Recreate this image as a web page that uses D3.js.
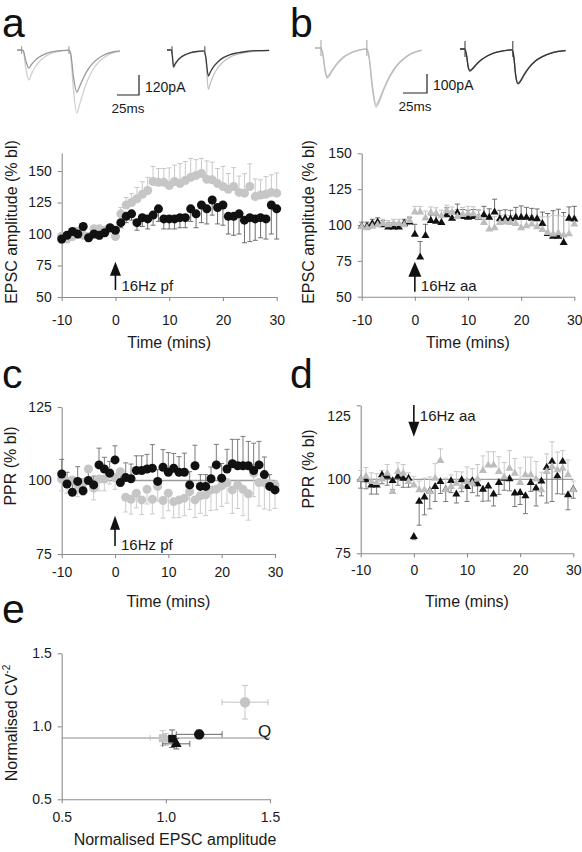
<!DOCTYPE html>
<html><head><meta charset="utf-8">
<script src="https://cdn.jsdelivr.net/npm/d3@7"></script>
<style>
body{margin:0;background:#fff}
svg{display:block}
</style>
</head><body><svg id="fig" width="582" height="852"></svg>
<script>
// ---------------- DATA ----------------
const timeMin = [-10,-9,-8,-7,-6,-5,-4,-3,-2,-1,0,1,2,3,4,5,6,7,8,9,10,11,12,13,14,15,16,17,18,19,20,21,22,23,24,25,26,27,28,29,30];
const xTicks = [-10,0,10,20,30];

// panel a: EPSC amplitude, 16Hz pf (circles)
const aGray = [98,96,98,102,99,98,104,104,103,104, 98,116,123,125,128,131.5,134.5,141.7,141,141,138.5,141.7,140,142.5,145,146.5,148,143.5,143,140,137.7,135.5,137.7,133,132.4,137.7,129.7,131,131.6,133,132.4];
const aGrayErr = [3,3,3,3,3,3,3,3,3,3, 3,5,6,7,9,10,10.5,12,11,11,14,13,16,15,15,12.5,12,14.5,14,12,16,12.5,15,13,15.5,18,14,12,14,14,16];
const aBlack = [96,99,102,100,106,97,100,99,101,105, 103,109,114,116,109,113,112,115,120,112,112,112,113,113,120,116,123,120,127,121,123,114,114,116,111,113,112,113,112,123,120];
const aBlackErr = [3,3,3,3,3,3,3,3,3,3, 3,4,5,5,6,7,8,8,10,8,8,8,8,8,10,11,14,12,12,13,16,14,15,16,18,19,17,16,16,23,24];

// panel b: EPSC amplitude, 16Hz aa (triangles)
const bGray = [98.6,98,99,100,101,100,101,101,100,103, 109,109,104.7,108.6,108,106.3,109.8,108.6,105.8,107.2,108,107.7,105.8,101.6,97,98,101.6,102,101.6,101,98,99.3,100.5,98.6,96.7,94.7,93.6,94.4,93,93.7,100.5];
const bGrayErr = [3,3,3,3,3,3,3,3,3,3, 4,4,5,4,4,4,4,4,5,5,5,5,5,6,7,8,5,5,5,6,6,6,6,7,9,11,13,12,13,10,5];
const bBlack = [99,99,101,102,100,98.5,98.5,98.5,101,102, 93.5,77.5,92.5,103,102.5,101.6,107,104.6,108.6,105.8,105.3,105.8,105.5,107,105.3,109,104.2,104.6,104.2,105.3,105.3,105.3,104.6,104.2,101,94,92,92,87.7,104.6,104];
const bBlackErr = [3,3,3,3,3,3,3,3,3,3, 7,11,8,4,4,4,5,5,6,5,5,5,5,6,6,9,6,6,6,7,8,7,7,7,8,14,18,19,21,8,9];

// panel c: PPR, 16Hz pf (circles)
const cGray = [100.5,99.7,100.2,98.5,99,103.9,97.4,100.5,100.5,102.8, 101,103,94.3,93.6,95.7,93.4,97,93.6,98,93.2,95.7,92.8,93.4,94,96.2,93.4,94.8,95.1,96.8,97,98.2,99.3,96.8,98.5,97,95.5,102.5,99.3,99.3,98.9,98.5];
const cGrayErr = [4,4,4,4,4,4,4,4,4,4, 4,5,5,5,5,5,5,5,5,6,6,5.5,6,6,6,6,6,7,7,7,7,7,8,8,9,9,8,8,9,9,8];
const cBlack = [102.2,98.8,96,99.7,96.5,100,98.5,105.3,103.9,102.5, 107,99.3,101,100.6,103.4,103.4,103.9,104.2,99.7,104.5,102.8,104.2,102.8,102.8,98.5,105,98,98,100.6,105.3,100.8,103.9,105.7,105,105,105,103.4,105.3,102,98,96.8];
const cBlackErr = [5,4,4,5,4,4,3,5.7,4,4, 4.8,4,5,5,5,5,5,8,4,6,6.7,5,5.3,6.5,4.5,7,4,4,4,7,5,6.7,8.3,9,10,8.3,9.3,8,6,4,3];

// panel d: PPR, 16Hz aa (triangles)
const dGray = [100,101,99.2,98.9,100,102,95.8,102.6,102,99.2, 98,96.4,96.4,95.8,100.3,106.3,96.4,97.5,98.6,97.5,99.2,98.6,100,102.9,104.8,104.8,102.6,100.7,103.7,102,98.9,101.5,101.5,100,96.4,102.6,104.3,103.2,103.7,101.5,96.4];
const dGrayErr = [3,3,3,3,3,3,3,3,3,3, 3,3,4,5,5,4,4,4,4,5,5,5,5,5,4.5,4.5,5,5,6,5,5,6,6,6,6,6,8.4,6,6,5,3];
const dBlack = [100,99.8,98,98,101.5,101,99.5,101,100.3,100.3, 80.6,92.5,94,96,97.5,99.2,96.5,99.5,95,99.8,97.5,99.5,98.4,96.6,97.7,95,98.9,100.3,100.1,95.3,95.5,94.4,98.9,97,99.4,104,106,101.1,106,94.7,96.6];
const dBlackErr = [3,3,3,3,3,3,3,3,3,3, 1,8,6,6,5,4,4,4,3,4,5,4,4,4,5,4,4,4,4,4.5,4,6,3,6,5,12,13.5,6,11,5,3];

// panel e: normalised CV^-2 vs normalised EPSC amplitude
const eGroup   = ['pf grey','pf black','aa grey','aa black','sq grey','sq black'];
const eAmp     = [1.38, 1.16, 1.00, 1.05, 0.985, 1.03];
const eAmpErr  = [0.11, 0.11, 0.03, 0.065, 0.06, 0.02];
const eCv      = [1.165, 0.945, 0.91, 0.88, 0.92, 0.915];
const eCvErr   = [0.115, 0.03, 0.04, 0.035, 0.05, 0.06];
const eShape   = ['circle','circle','triangle','triangle','square','square'];
const eTone    = ['grey','black','grey','black','grey','black'];
const eRefCv   = 0.92;

// example traces: [ms, pA]
const traceALeftBig = [[0,0],[5,0],[7,-5],[10,-110],[13.5,-180],[16,-150],[20,-108],[25,-72],[31,-43],[38,-22],[46,-10],[54,-4],[59,-2],[61,-30],[64,-230],[68,-378],[71,-330],[75,-260],[80,-185],[86,-120],[93,-72],[101,-38],[109,-18],[117,-8]];
const traceALeftSmall = [[0,0],[5,0],[7,-3],[10,-65],[13.5,-108],[16,-90],[20,-65],[25,-43],[31,-26],[38,-13],[46,-6],[54,-2],[59,-1],[61,-20],[64,-155],[68,-252],[71,-220],[75,-172],[80,-122],[86,-80],[93,-48],[101,-25],[109,-12],[117,-5]];
const traceARightDark = [[0,0],[5,0],[6,-30],[7.4,-100],[9,-85],[12,-62],[16,-42],[21,-27],[27,-16],[34,-9],[42,-5],[44,-40],[47,-156],[49,-135],[53,-100],[58,-70],[64,-46],[71,-29],[80,-17],[90,-9],[102,-4],[116,-2]];
const traceARightLight = [[0,0],[5,0],[6,-30],[7.4,-108],[9,-92],[12,-68],[16,-46],[21,-29],[27,-17],[34,-10],[42,-6],[44,-50],[47,-236],[49,-205],[53,-150],[58,-105],[64,-70],[71,-44],[80,-26],[90,-14],[102,-7],[116,-3]];
const traceBLeftA = [[0,0],[6,0],[8,-30],[10.5,-120],[12.5,-158],[15,-145],[19,-112],[24,-78],[30,-48],[37,-27],[45,-13],[54,-6],[56,-40],[60,-220],[63.5,-310],[67,-280],[72,-215],[78,-150],[85,-95],[93,-55],[101,-28],[111,-12]];
const traceBLeftB = [[0,0],[6,0],[8,-25],[10.5,-110],[12.5,-150],[15,-138],[19,-107],[24,-75],[30,-46],[37,-26],[45,-12],[54,-5],[56,-35],[60,-205],[63.5,-298],[67,-270],[72,-208],[78,-145],[85,-92],[93,-53],[101,-27],[111,-11]];
const traceBRightDark = [[0,0],[5,0],[7,-40],[8.5,-95],[10.4,-116],[13,-105],[17,-82],[22,-58],[28,-38],[35,-22],[44,-11],[54,-5],[56,-40],[58,-140],[60.4,-184],[63,-170],[67,-135],[72,-98],[78,-66],[86,-40],[95,-22],[110,-9]];
const traceBRightGray = [[0,0],[5,0],[7,-35],[8.5,-90],[10.4,-112],[13,-102],[17,-80],[22,-56],[28,-37],[35,-21],[44,-10],[54,-4],[56,-36],[58,-135],[60.4,-178],[63,-165],[67,-131],[72,-95],[78,-64],[86,-39],[95,-21],[110,-8]];
const stimALeft = [5.3, 59];
const stimARight = [5.7, 43];
const stimBLeft = [6.25, 54];
const stimBRight = [5.2, 55];
const scaleBarA = {ms: 25, pA: 120};
const scaleBarB = {ms: 25, pA: 100};

// ---------------- DRAWING ----------------
const FONT = '"Liberation Sans", Arial, Helvetica, sans-serif';
const AXC = '#8c8c8c';
const GREY_MK = '#c6c6c6';
const BLACK_MK = '#111';
const svg = d3.select('#fig');

function txt(g, x, y, s, size, anchor) {
  return g.append('text').attr('x', x).attr('y', y).text(s)
    .attr('font-family', FONT).attr('font-size', size).attr('fill', '#1a1a1a')
    .attr('text-anchor', anchor || 'start');
}
function styleAxis(sel) {
  sel.attr('font-family', FONT).attr('font-size', 14);
  sel.select('.domain').attr('stroke', AXC).attr('stroke-width', 1.1);
  sel.selectAll('.tick line').attr('stroke', AXC).attr('stroke-width', 1.1);
  sel.selectAll('.tick text').attr('fill', '#1a1a1a');
}
function arrow(g, x, yTail, yTip, w, h) {
  const dir = yTip < yTail ? 1 : -1; // 1 = pointing up
  g.append('line').attr('x1', x).attr('x2', x).attr('y1', yTail).attr('y2', yTip + dir * h * 0.6)
    .attr('stroke', '#111').attr('stroke-width', 1.6);
  g.append('path').attr('d', d3.line()([[x, yTip], [x - w / 2, yTip + dir * h], [x + w / 2, yTip + dir * h]]) + 'Z')
    .attr('fill', '#111');
}

const panelLetters = [['a', 2, 37], ['b', 290, 37], ['c', 2, 388], ['d', 290, 388], ['e', 2, 623]];
panelLetters.forEach(([s, x, y]) => txt(svg, x, y, s, 41).attr('fill', '#111'));

// ---- example traces ----
function traceBlock(o) {
  const g = svg.append('g');
  const tx = d3.scaleLinear().domain([0, 1]).range([o.x0, o.x0 + o.kx]);
  const ty = d3.scaleLinear().domain([0, 1]).range([o.y0, o.y0 - o.ky]);
  const line = d3.line().x(d => tx(d[0])).y(d => ty(d[1])).curve(d3.curveMonotoneX);
  o.traces.forEach(t => {
    g.append('path').attr('d', line(t.data)).attr('fill', 'none')
      .attr('stroke', t.color).attr('stroke-width', 1.3);
  });
  o.stims.forEach(s => {
    g.append('line').attr('x1', tx(s)).attr('x2', tx(s)).attr('y1', ty(o.art)).attr('y2', ty(-o.art))
      .attr('stroke', o.artColor).attr('stroke-width', 1.1);
  });
  if (o.bar) {
    const b = o.bar;
    const bx = o.barX, by = o.barY;
    const wpx = tx(b.ms) - tx(0), hpx = ty(0) - ty(b.pA);
    g.append('path').attr('d', d3.line()([[bx - wpx, by], [bx, by], [bx, by - hpx]]))
      .attr('fill', 'none').attr('stroke', '#222').attr('stroke-width', 1.2);
    txt(g, bx + 6, by - 3, b.pA + 'pA', 14);
    txt(g, bx - wpx / 2, by + 18, b.ms + 'ms', 13.5, 'middle');
  }
}
traceBlock({x0: 17, y0: 50, kx: 0.88, ky: 1 / 6, art: 22, artColor: '#999', stims: stimALeft,
  traces: [{data: traceALeftBig, color: '#d0d0d0'}, {data: traceALeftSmall, color: '#9a9a9a'}],
  bar: scaleBarA, barX: 139, barY: 95});
traceBlock({x0: 167, y0: 50, kx: 0.88, ky: 1 / 6, art: 22, artColor: '#555', stims: stimARight,
  traces: [{data: traceARightLight, color: '#c2c2c2'}, {data: traceARightDark, color: '#3c3c3c'}]});
traceBlock({x0: 315, y0: 48, kx: 0.96, ky: 0.19, art: 42, artColor: '#aaa', stims: stimBLeft,
  traces: [{data: traceBLeftB, color: '#c9c9c9'}, {data: traceBLeftA, color: '#bcbcbc'}],
  bar: scaleBarB, barX: 427, barY: 93});
traceBlock({x0: 460, y0: 49, kx: 0.96, ky: 0.19, art: 42, artColor: '#444', stims: stimBRight,
  traces: [{data: traceBRightGray, color: '#8a8a8a'}, {data: traceBRightDark, color: '#333'}]});

// ---- time-course panels ----
function timePanel(p) {
  const g = svg.append('g');
  const x = d3.scaleLinear().domain([-10, 30]).range([p.x0, p.x1]);
  const y = d3.scaleLinear().domain(p.yDomain).range([p.yBottom, p.yTop]);
  if (p.refLine != null) {
    g.append('line').attr('x1', x(-10)).attr('x2', x(30)).attr('y1', y(p.refLine)).attr('y2', y(p.refLine))
      .attr('stroke', '#9a9a9a').attr('stroke-width', 1.3);
  }
  const ax = g.append('g').attr('transform', `translate(0,${p.yBottom})`)
    .call(d3.axisBottom(x).tickValues(xTicks).tickSize(4).tickSizeOuter(0).tickPadding(p.xPad).tickFormat(d => String(d)));
  styleAxis(ax);
  const ay = g.append('g').attr('transform', `translate(${p.x0},0)`)
    .call(d3.axisLeft(y).tickValues(p.yTicks).tickSize(4).tickSizeOuter(0).tickPadding(6).tickFormat(d => String(d)));
  styleAxis(ay);
  if (p.shiftTopLabel) ay.selectAll('.tick text').filter(d => d === p.yTicks[p.yTicks.length - 1]).attr('transform', `translate(0,${p.shiftTopLabel})`);
  txt(g, (p.x0 + p.x1) / 2, p.xTitleY, 'Time (mins)', 16, 'middle');
  txt(g, 0, 0, p.yTitle, 16, 'middle').attr('transform', `translate(${p.yTitleX},${p.yTitleY}) rotate(-90)`);
  // error bars
  p.series.forEach(s => {
    const eg = g.append('g').attr('stroke', s.barColor).attr('stroke-width', 1);
    timeMin.forEach((t, i) => {
      const v = s.values[i], e = s.errs[i];
      const y1 = y(v), y2 = y(v + s.dir * e), xx = x(t);
      eg.append('line').attr('x1', xx).attr('x2', xx).attr('y1', y1).attr('y2', y2);
      eg.append('line').attr('x1', xx - 2.5).attr('x2', xx + 2.5).attr('y1', y2).attr('y2', y2);
    });
  });
  // markers
  p.series.forEach(s => {
    const mg = g.append('g');
    timeMin.forEach((t, i) => {
      if (s.shape === 'circle') {
        mg.append('circle').attr('cx', x(t)).attr('cy', y(s.values[i])).attr('r', 4.5).attr('fill', s.fill);
      } else {
        mg.append('path').attr('d', d3.symbol(d3.symbolTriangle, 28)())
          .attr('transform', `translate(${x(t)},${y(s.values[i])})`).attr('fill', s.fill);
      }
    });
  });
  // arrow
  const a = p.arrow;
  arrow(g, x(0), y(a.tail), y(a.tip), a.w, a.h);
  txt(g, x(0) + 6, a.labelY, a.label, 15);
}

timePanel({x0: 61.7, x1: 276.7, yBottom: 297, yTop: 153, yDomain: [50, 164.3], yTicks: [50, 75, 100, 125, 150],
  xPad: 14, xTitleY: 348, yTitle: 'EPSC amplitude (% bl)', yTitleX: 17, yTitleY: 222,
  series: [
    {values: aGray, errs: aGrayErr, dir: 1, fill: GREY_MK, barColor: '#c8c8c8', shape: 'circle'},
    {values: aBlack, errs: aBlackErr, dir: -1, fill: BLACK_MK, barColor: '#6e6e6e', shape: 'circle'}],
  arrow: {tail: 55.6, tip: 78, w: 11, h: 14, label: '16Hz pf', labelY: 291}});

timePanel({x0: 361.7, x1: 574.3, yBottom: 296.7, yTop: 153.3, yDomain: [50, 150], yTicks: [50, 75, 100, 125, 150],
  xPad: 14, xTitleY: 348, yTitle: 'EPSC amplitude (% bl)', yTitleX: 314, yTitleY: 222,
  series: [
    {values: bBlack, errs: bBlackErr, dir: 1, fill: BLACK_MK, barColor: '#6e6e6e', shape: 'triangle'},
    {values: bGray, errs: bGrayErr, dir: 1, fill: '#bdbdbd', barColor: '#c4c4c4', shape: 'triangle'}],
  arrow: {tail: 53.5, tip: 74.4, w: 13, h: 15, label: '16Hz aa', labelY: 291}});

timePanel({x0: 61.7, x1: 275, yBottom: 554, yTop: 407, yDomain: [75, 125], yTicks: [75, 100, 125],
  xPad: 9, refLine: 100, xTitleY: 607, yTitle: 'PPR (% bl)', yTitleX: 16, yTitleY: 466,
  series: [
    {values: cGray, errs: cGrayErr, dir: -1, fill: GREY_MK, barColor: '#cbcbcb', shape: 'circle'},
    {values: cBlack, errs: cBlackErr, dir: 1, fill: BLACK_MK, barColor: '#7a7a7a', shape: 'circle'}],
  arrow: {tail: 77.7, tip: 88, w: 10, h: 14, label: '16Hz pf', labelY: 549.5}});

timePanel({x0: 360.7, x1: 573.3, yBottom: 553.3, yTop: 405.3, yDomain: [75, 125], yTicks: [75, 100, 125],
  xPad: 8, refLine: 100, xTitleY: 607, yTitle: 'PPR (% bl)', yTitleX: 314, yTitleY: 469, shiftTopLabel: 11,
  series: [
    {values: dBlack, errs: dBlackErr, dir: -1, fill: BLACK_MK, barColor: '#7a7a7a', shape: 'triangle'},
    {values: dGray, errs: dGrayErr, dir: 1, fill: '#bdbdbd', barColor: '#c8c8c8', shape: 'triangle'}],
  arrow: {tail: 125.1, tip: 114.4, w: 11, h: 15, label: '16Hz aa', labelY: 420.5}});

// ---- panel e ----
(function () {
  const g = svg.append('g');
  const x = d3.scaleLinear().domain([0.5, 1.5]).range([61.7, 270]);
  const y = d3.scaleLinear().domain([0.5, 1.5]).range([799.3, 653.3]);
  const f = d3.format('.1f');
  const ax = g.append('g').attr('transform', 'translate(0,799.3)')
    .call(d3.axisBottom(x).tickValues([0.5, 1.0, 1.5]).tickSize(4).tickSizeOuter(0).tickPadding(9).tickFormat(f));
  styleAxis(ax);
  const ay = g.append('g').attr('transform', 'translate(61.7,0)')
    .call(d3.axisLeft(y).tickValues([0.5, 1.0, 1.5]).tickSize(4).tickSizeOuter(0).tickPadding(6).tickFormat(f));
  styleAxis(ay);
  g.append('line').attr('x1', x(0.5)).attr('x2', x(1.5)).attr('y1', y(eRefCv)).attr('y2', y(eRefCv))
    .attr('stroke', '#8c8c8c').attr('stroke-width', 1.2);
  txt(g, 258, 737, 'Q', 17);
  txt(g, 175, 845, 'Normalised EPSC amplitude', 16, 'middle');
  const yt = txt(g, 0, 0, 'Normalised CV', 16, 'middle').attr('transform', 'translate(17,723) rotate(-90)');
  yt.append('tspan').text('-2').attr('font-size', 10).attr('dy', -7);
  const order = [0, 2, 4, 5, 3, 1];
  order.forEach(i => {
    const col = eTone[i] === 'grey' ? '#c4c4c4' : '#666';
    const cx = x(eAmp[i]), cy = y(eCv[i]);
    const x1 = x(eAmp[i] - eAmpErr[i]), x2 = x(eAmp[i] + eAmpErr[i]);
    const y1 = y(eCv[i] - eCvErr[i]), y2 = y(eCv[i] + eCvErr[i]);
    const eg = g.append('g').attr('stroke', col).attr('stroke-width', 1);
    eg.append('line').attr('x1', x1).attr('x2', x2).attr('y1', cy).attr('y2', cy);
    eg.append('line').attr('x1', x1).attr('x2', x1).attr('y1', cy - 3).attr('y2', cy + 3);
    eg.append('line').attr('x1', x2).attr('x2', x2).attr('y1', cy - 3).attr('y2', cy + 3);
    eg.append('line').attr('x1', cx).attr('x2', cx).attr('y1', y1).attr('y2', y2);
    eg.append('line').attr('x1', cx - 3).attr('x2', cx + 3).attr('y1', y1).attr('y2', y1);
    eg.append('line').attr('x1', cx - 3).attr('x2', cx + 3).attr('y1', y2).attr('y2', y2);
  });
  order.forEach(i => {
    const fill = eTone[i] === 'grey' ? '#c4c4c4' : '#111';
    const cx = x(eAmp[i]), cy = y(eCv[i]);
    const sym = eShape[i] === 'circle' ? d3.symbolCircle : eShape[i] === 'square' ? d3.symbolSquare : d3.symbolTriangle;
    const size = eShape[i] === 'circle' ? 85 : eShape[i] === 'square' ? 60 : 50;
    g.append('path').attr('d', d3.symbol(sym, size)()).attr('transform', `translate(${cx},${cy})`).attr('fill', fill);
  });
})();
</script></body></html>
